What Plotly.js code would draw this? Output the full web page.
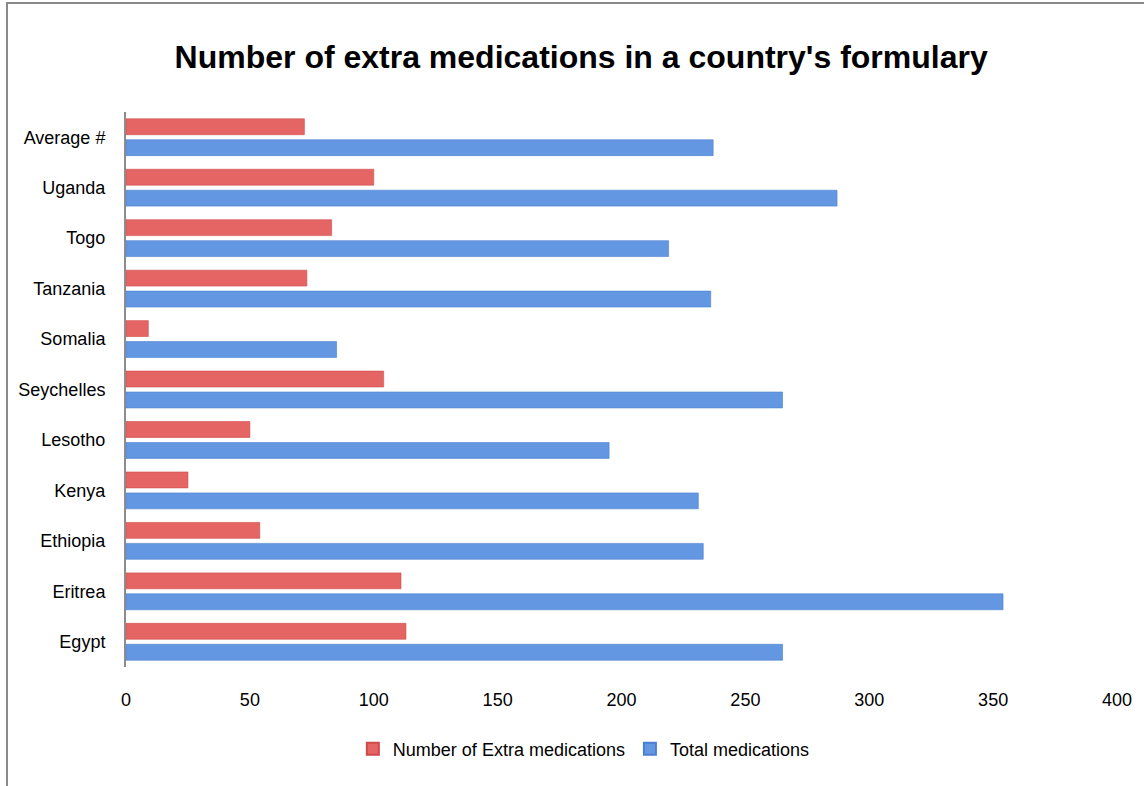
<!DOCTYPE html>
<html>
<head>
<meta charset="utf-8">
<script src="https://cdn.plot.ly/plotly-3.0.1.min.js"></script>
<style>
  html, body { margin: 0; padding: 0; background: #fff; }
  #chart { width: 1144px; height: 786px; }
  #frame { position: absolute; left: 6px; top: 2px; width: 1200px; height: 900px;
           border-left: 2px solid #8a8a8a; border-top: 2px solid #8a8a8a; pointer-events: none; }
</style>
</head>
<body>
<div id="chart"></div>
<div id="frame"></div>
<script>
const countries = ["Egypt", "Eritrea", "Ethiopia", "Kenya", "Lesotho", "Seychelles",
                   "Somalia", "Tanzania", "Togo", "Uganda", "Average #"];
const extraMeds = [113, 111, 54, 25, 50, 104, 9, 73, 83, 100, 72];
const totalMeds = [265, 354, 233, 231, 195, 265, 85, 236, 219, 287, 237];
const xTicks = [0, 50, 100, 150, 200, 250, 300, 350, 400];

const FONT = "Liberation Sans, Arial, sans-serif";

const traces = [
  {
    type: "bar", orientation: "h", name: "Total medications",
    y: countries, x: totalMeds,
    marker: { color: "#6497e2", line: { color: "#4a80d2", width: 0.6 } },
    hoverinfo: "x+y"
  },
  {
    type: "bar", orientation: "h", name: "Number of Extra medications",
    y: countries, x: extraMeds,
    marker: { color: "#e56565", line: { color: "#d04a4a", width: 0.6 } },
    hoverinfo: "x+y"
  }
];

const layout = {
  width: 1144, height: 786,
  paper_bgcolor: "#ffffff", plot_bgcolor: "#ffffff",
  margin: { l: 126, r: 27, t: 112, b: 119 },
  font: { family: FONT, size: 18, color: "#000" },
  title: {
    text: "<b>Number of extra medications in a country's formulary</b>",
    font: { family: FONT, size: 32, color: "#000" },
    x: 0.508, xref: "container", xanchor: "center",
    y: 0.928, yref: "container", yanchor: "middle"
  },
  barmode: "group",
  bargap: 0.17, bargroupgap: 0.24,
  xaxis: {
    range: [0, 400], tickvals: xTicks, ticktext: xTicks.map(String),
    showgrid: false, zeroline: false, showline: false,
    ticks: "", ticklabelstandoff: 20,
    tickfont: { family: FONT, size: 18, color: "#000" },
    fixedrange: true
  },
  yaxis: {
    type: "category", categoryorder: "array", categoryarray: countries,
    showgrid: false, zeroline: false,
    showline: true, linecolor: "#8c8c8c", linewidth: 2,
    ticks: "", ticklabelstandoff: 15,
    tickfont: { family: FONT, size: 18, color: "#000" },
    fixedrange: true
  },
  showlegend: true,
  legend: {
    orientation: "h", traceorder: "reversed",
    x: 0.462, xanchor: "center", y: -0.148, yanchor: "middle",
    font: { family: FONT, size: 18, color: "#000" },
    itemwidth: 30, itemsizing: "constant"
  }
};

Plotly.newPlot("chart", traces, layout, { displayModeBar: false, staticPlot: true });
</script>
</body>
</html>
